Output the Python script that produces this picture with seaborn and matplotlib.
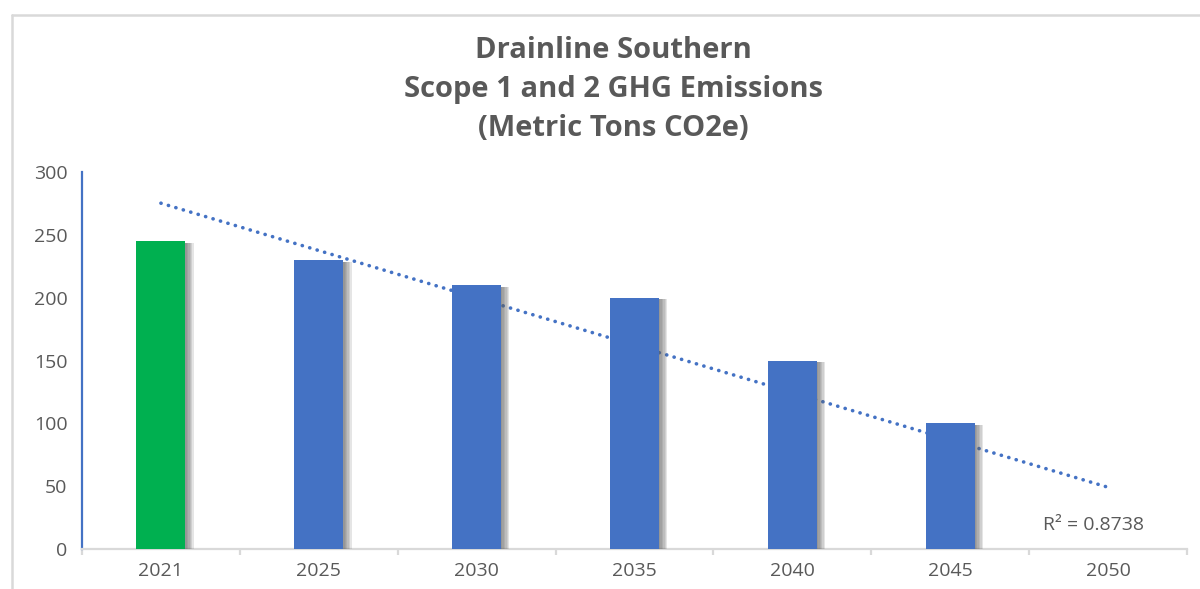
import numpy as np
import pandas as pd
import seaborn as sns
import matplotlib
matplotlib.use("Agg")
import matplotlib.pyplot as plt
import matplotlib.patheffects as pe
from matplotlib.lines import Line2D
from matplotlib.ticker import FixedLocator

years = ["2021", "2025", "2030", "2035", "2040", "2045", "2050"]
emissions = [245, 230, 210, 200, 150, 100, 0]
bar_colors = ["#00B050", "#4472C4", "#4472C4", "#4472C4", "#4472C4", "#4472C4", "#4472C4"]
title_lines = ["Drainline Southern", "Scope 1 and 2 GHG Emissions", "(Metric Tons CO2e)"]

sns.set_theme(style="white")
plt.rcParams['font.family'] = ['Open Sans', 'DejaVu Sans']

df = pd.DataFrame({"year": years, "value": emissions})

fig = plt.figure(figsize=(12, 5.89), dpi=100)
ax = fig.add_axes([82/1200, 1-549/589, (1187-82)/1200, (549-172)/589])

sns.barplot(data=df, x="year", y="value", hue="year", palette=bar_colors,
            width=0.31, legend=False, ax=ax, zorder=3, saturation=1)

shadow = [pe.SimplePatchShadow(offset=(o, -1.2), shadow_rgbFace="#606060", alpha=0.16)
          for o in (1.0, 2.0, 3.0, 4.0, 5.0, 6.0)]
for p in ax.patches:
    p.set_path_effects(shadow + [pe.Normal()])
    p.set_edgecolor("none")

# linear trendline
xs = np.arange(len(years))
coef = np.polyfit(xs, emissions, 1)
fit = np.polyval(coef, xs)
ss_res = np.sum((np.array(emissions) - fit) ** 2)
ss_tot = np.sum((np.array(emissions) - np.mean(emissions)) ** 2)
r2 = 1 - ss_res / ss_tot
ax.plot(xs, fit, color="#4472C4", lw=2.6, linestyle=(0, (0.05, 2.1)),
        dash_capstyle="round", zorder=2)
ax.text(5.91, 19, "R² = 0.8738", color="#595959",
        fontsize=14, ha="center", va="center")

ax.set_xlim(-0.5, 6.5)
ax.set_ylim(0, 300)
ax.set_yticks([0, 50, 100, 150, 200, 250, 300])
ax.set_xlabel("")
ax.set_ylabel("")

for s in ("top", "right"):
    ax.spines[s].set_visible(False)
ax.spines["left"].set_color("#4472C4")
ax.spines["left"].set_linewidth(1.6)
ax.spines["bottom"].set_color("#D9D9D9")
ax.spines["bottom"].set_linewidth(1.6)

ax.tick_params(axis="y", which="major", direction="out", length=4.5, width=1.6,
               color="#4472C4", labelcolor="#595959", labelsize=14, pad=6)
ax.tick_params(axis="x", which="major", length=0, labelcolor="#595959",
               labelsize=14, pad=9)
ax.xaxis.set_minor_locator(FixedLocator(np.arange(-0.5, 7.0, 1.0)))
ax.tick_params(axis="x", which="minor", direction="out", length=4.5, width=1.6,
               color="#D9D9D9", bottom=True)

# title
for i, line in enumerate(title_lines):
    fig.text(613/1200, 1 - (51 + 38.5*i)/589, line, ha="center", va="center",
             fontsize=21, fontweight="bold", color="#595959")

# chart-area border (top and left)
fig.add_artist(Line2D([12/1200, 1.0], [1-15/589, 1-15/589], color="#D9D9D9", lw=1.8,
                      transform=fig.transFigure))
fig.add_artist(Line2D([12/1200, 12/1200], [0.0, 1-15/589], color="#D9D9D9", lw=1.8,
                      transform=fig.transFigure))

fig.savefig("out.png", dpi=100)
